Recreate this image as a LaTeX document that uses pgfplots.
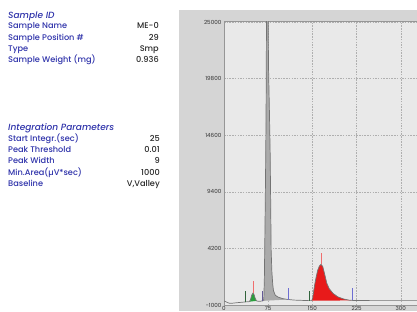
\documentclass[border=0pt]{standalone}
\usepackage{fontspec}
\setmainfont{Poppins}
\newfontfamily\medfont{Poppins Medium}
\usepackage{pgfplots}
\pgfplotsset{compat=1.18}
\definecolor{lblue}{RGB}{46,50,170}
\definecolor{valcol}{RGB}{40,40,40}
\definecolor{panel}{RGB}{213,213,213}
\definecolor{plotbg}{RGB}{233,233,233}
\definecolor{axcol}{RGB}{150,150,150}
\definecolor{tickcol}{RGB}{50,50,50}
\definecolor{gridcol}{RGB}{175,175,175}
\definecolor{tracecol}{RGB}{115,115,115}
\definecolor{greyfill}{RGB}{170,170,170}
\definecolor{pred}{RGB}{232,26,26}
\definecolor{pgreen}{RGB}{40,160,60}
\definecolor{mgreen}{RGB}{50,100,60}
\definecolor{mpurple}{RGB}{100,90,150}
\definecolor{mblue}{RGB}{110,110,210}
\definecolor{mred}{RGB}{240,110,110}
\begin{document}
\begin{tikzpicture}
\path[use as bounding box] (0pt,0pt) rectangle (417pt,311pt);
\clip (0pt,0pt) rectangle (417pt,311pt);
\fill[white] (0pt,0pt) rectangle (417pt,311pt);
\fill[panel] (179pt,0pt) rectangle (417pt,301pt);
% left info text
\tikzset{lab/.style={anchor=base west, text=lblue, inner sep=0pt, font=\medfont\fontsize{8.2}{9}\selectfont},
         hd/.style={anchor=base west, text=lblue, inner sep=0pt, font=\medfont\fontsize{9}{10}\selectfont\itshape},
         val/.style={anchor=base east, text=valcol, inner sep=0pt, font=\medfont\fontsize{8.2}{9}\selectfont}}
\node[hd] at (8pt,292pt) {Sample ID};
\node[lab] at (8pt,282pt) {Sample Name};
\node[lab] at (8pt,270.7pt) {Sample Position \#};
\node[lab] at (8pt,259.4pt) {Type};
\node[lab] at (8pt,248.1pt) {Sample Weight (mg)};
\node[val] at (159pt,282pt) {ME-0};
\node[val] at (159pt,270.7pt) {29};
\node[val] at (159pt,259.4pt) {Smp};
\node[val] at (159pt,248.1pt) {0.936};
\node[hd] at (8pt,180.5pt) {Integration Parameters};
\node[lab] at (8pt,169.3pt) {Start Integr.(sec)};
\node[lab] at (8pt,158.2pt) {Peak Threshold};
\node[lab] at (8pt,147.1pt) {Peak Width};
\node[lab] at (8pt,136pt) {Min.Area(µV*sec)};
\node[lab] at (8pt,124.9pt) {Baseline};
\node[val] at (160pt,169.3pt) {25};
\node[val] at (160pt,158.2pt) {0.01};
\node[val] at (160pt,147.1pt) {9};
\node[val] at (160pt,136pt) {1000};
\node[val] at (160pt,124.9pt) {V,Valley};
\begin{axis}[
  at={(224pt,6pt)}, anchor=south west,
  scale only axis, width=265.2pt, height=283pt,
  xmin=0, xmax=450, ymin=-1000, ymax=25000,
  xtick={0,75,150,225,300},
  ytick={-1000,4200,9400,14600,19800,25000},
  scaled ticks=false,
  /pgf/number format/1000 sep={},
  /pgf/number format/assume math mode=true,
  grid=major,
  grid style={draw=gridcol, line width=0.4pt, dash pattern=on 1.5pt off 1.2pt},
  axis background/.style={fill=plotbg},
  axis line style={draw=axcol, line width=1pt},
  major tick length=0pt,
  tick style={draw=none},
  ticklabel style={font=\fontsize{5.6}{6}\selectfont, text=tickcol},
  yticklabel style={inner sep=1pt, xshift=-1.5pt},
  xticklabel style={inner sep=0pt, yshift=-0.8pt},
]
% grey solvent peak fill
\addplot[fill=greyfill, draw=none] coordinates {
 (66,-620) (67.5,-500) (68.5,1500) (69.5,6000) (70.5,11000) (71.3,16000) (72,24000) (72.4,28500) (74.6,28500) (75.5,21000) (77,17000) (78.3,13000) (79.3,8000) (80,4000) (81.3,2000) (82.7,900) (84,300) (87,-100) (92,-280) (100,-420) (108.7,-495)
} -- cycle;
% green peak fill
\addplot[fill=pgreen, draw=none] coordinates {
 (44,-690) (45,-500) (47,-100) (49.2,100) (51,-50) (53,-400) (55,-620)
} -- cycle;
% red peak fill
\addplot[fill=pred, draw=none] coordinates {
 (148.9,-600) (150.5,-350) (152,200) (154,900) (156.5,1600) (159,2200) (162,2600) (164.7,2730) (167.5,2550) (170.5,1900) (174.4,1000) (178.5,500) (185,70) (193,-250) (203,-450) (212,-550) (218.5,-580)
} -- cycle;
% trace
\addplot[draw=tracecol, line width=0.7pt] coordinates {
 (0,-620) (3,-700) (6,-780) (10,-850) (15,-830) (20,-800) (30,-750) (38,-710) (43,-690)
 (45,-500) (47,-100) (49.2,100) (51,-50) (53,-400) (55,-620) (58,-660) (62,-650) (66,-620)
 (67.5,-500) (68.5,1500) (69.5,6000) (70.5,11000) (71.3,16000) (72,24000) (72.4,28500) (74.6,28500)
 (75.5,21000) (77,17000) (78.3,13000) (79.3,8000) (80,4000) (81.3,2000) (82.7,900) (84,300)
 (87,-100) (92,-280) (100,-420) (110,-500) (120,-550) (135,-580) (145,-600) (149,-600)
 (150.5,-350) (152,200) (154,900) (156.5,1600) (159,2200) (162,2600) (164.7,2730) (167.5,2550)
 (170.5,1900) (174.4,1000) (178.5,500) (185,70) (193,-250) (203,-450) (212,-550) (218.5,-580)
 (230,-590) (260,-600) (320,-600) (380,-600) (450,-600)
};
% peak start / end markers
\addplot[draw=mgreen, line width=0.7pt] coordinates {(36.2,-720) (36.2,250)};
\addplot[draw=mpurple, line width=0.7pt] coordinates {(65,-640) (65,250)};
\addplot[draw=mblue, line width=0.7pt] coordinates {(108.7,-500) (108.7,520)};
\addplot[draw=mgreen, line width=0.7pt] coordinates {(144.8,-600) (144.8,330)};
\addplot[draw=mblue, line width=0.7pt] coordinates {(218.5,-580) (218.5,600)};
% apex markers
\addplot[draw=mred, line width=0.7pt] coordinates {(49.2,100) (49.2,1250)};
\addplot[draw=mred, line width=0.7pt] coordinates {(164.7,2730) (164.7,3770)};
\end{axis}
\end{tikzpicture}
\end{document}
